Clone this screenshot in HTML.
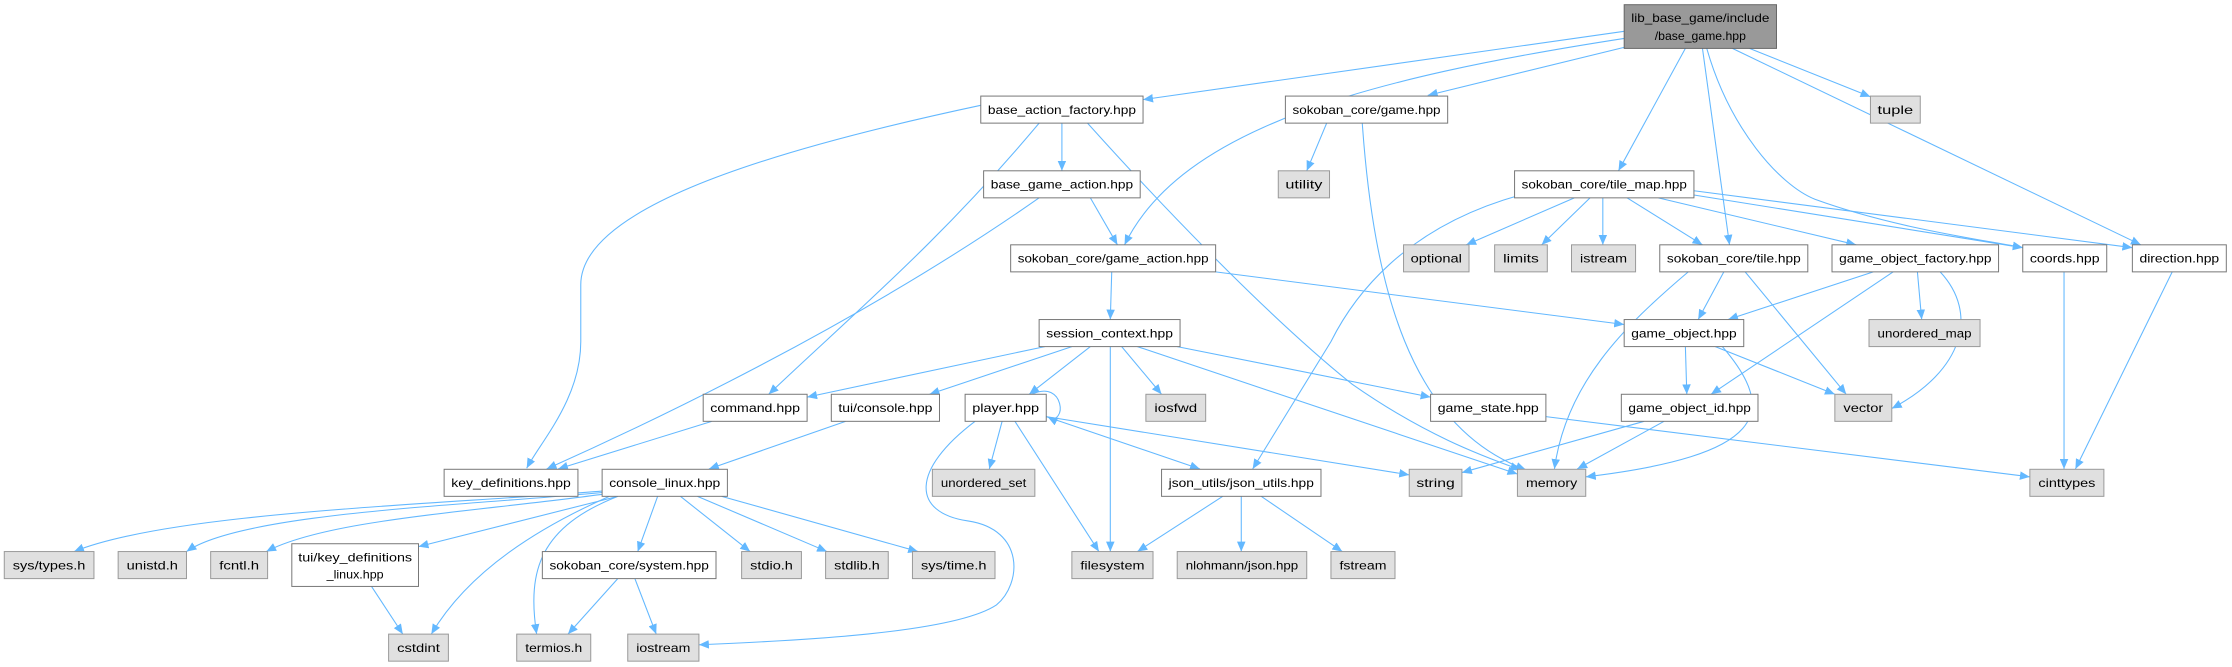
<!DOCTYPE html>
<html><head><meta charset="utf-8"><style>
html,body{margin:0;padding:0;background:#fff;}
svg{display:block;}
text{font-family:"Liberation Sans",sans-serif;font-size:8.6px;fill:#000;}
.n{fill:#fff;stroke:#777;stroke-width:0.7;}
.g{fill:#e0e0e0;stroke:#999;stroke-width:0.7;}
.r{fill:#999;stroke:#666;stroke-width:0.7;}
.e{fill:none;stroke:#63b8ff;stroke-width:0.75;}
</style></head><body>
<svg width="2232" height="667" viewBox="0 0 1568 468.6" preserveAspectRatio="none" xmlns="http://www.w3.org/2000/svg">
<defs><marker id="a" markerUnits="userSpaceOnUse" markerWidth="8" markerHeight="6" refX="7" refY="3" orient="auto"><path d="M0,0 L7,3 L0,6 z" fill="#63b8ff"/></marker></defs>
<g marker-end="url(#a)">
<path class="e" d="M1141,22 L803,70"/>
<path class="e" d="M1141,27 C960,55 830,90 790,172"/>
<path class="e" d="M1142,33 L1003,67"/>
<path class="e" d="M1184,34 L1137,120"/>
<path class="e" d="M1196,34 L1215,172"/>
<path class="e" d="M1199,34 C1215,90 1250,130 1275,140 C1330,160 1390,168 1421,174"/>
<path class="e" d="M1217,34 L1504,172"/>
<path class="e" d="M1229,34 L1314,68"/>
<path class="e" d="M689,74 C520,110 408,150 408,200 L408,240 C408,280 380,310 370,329"/>
<path class="e" d="M746,86.5 L746,120"/>
<path class="e" d="M730,86.5 C660,170 600,220 540,277"/>
<path class="e" d="M764,86.5 C830,160 900,230 950,270 C1000,305 1040,320 1068,330"/>
<path class="e" d="M730,139 C600,230 450,300 384,329.5"/>
<path class="e" d="M766,139 L785,172"/>
<path class="e" d="M932,86.5 L918,120"/>
<path class="e" d="M957,86.5 C965,200 990,300 1072,330"/>
<path class="e" d="M1068,137 C985,160 950,210 935,240 L880,329.5"/>
<path class="e" d="M1106,139 L1030,172"/>
<path class="e" d="M1117,139 L1083,172"/>
<path class="e" d="M1126,139 L1126,172"/>
<path class="e" d="M1143,139 L1196,172"/>
<path class="e" d="M1165,139 L1304,172"/>
<path class="e" d="M1190,137 L1421,174"/>
<path class="e" d="M1190,134 L1498,174"/>
<path class="e" d="M781,191 L780,224.5"/>
<path class="e" d="M854,191 L1141,228"/>
<path class="e" d="M1211,191 L1193,224.5"/>
<path class="e" d="M1226,191 L1297,277"/>
<path class="e" d="M1186,191 C1140,230 1100,270 1092,329.5"/>
<path class="e" d="M1316,191 L1214,224.5"/>
<path class="e" d="M1330,191 L1202,277"/>
<path class="e" d="M1347,191 L1350,224.5"/>
<path class="e" d="M1363,191 C1390,220 1380,260 1329,287"/>
<path class="e" d="M1450,191 L1450,329.5"/>
<path class="e" d="M1526,191 L1458,329.5"/>
<path class="e" d="M734,243.5 L567,279"/>
<path class="e" d="M753,243.5 L653,277"/>
<path class="e" d="M766,243.5 L723,277"/>
<path class="e" d="M780,243.5 L780,387.5"/>
<path class="e" d="M788,243.5 L816,277"/>
<path class="e" d="M799,243.5 L1066,333"/>
<path class="e" d="M827,243.5 L1005,279"/>
<path class="e" d="M1184,243.5 L1185,277"/>
<path class="e" d="M1205,243.5 L1289,277"/>
<path class="e" d="M1210,243.5 C1250,290 1240,320 1114,335"/>
<path class="e" d="M1155,296 L1027,332"/>
<path class="e" d="M1169,296 L1108,329.5"/>
<path class="e" d="M1086,292.7 L1426,335"/>
<path class="e" d="M725,277 C748,266 750,300 736,293"/>
<path class="e" d="M735,292.7 L990,333.6"/>
<path class="e" d="M735,292.7 L843,329.5"/>
<path class="e" d="M713,296 L772,387.5"/>
<path class="e" d="M704,296 L695,329.5"/>
<path class="e" d="M685,296 C640,330 640,360 680,366 C720,372 718,410 700,425 C670,445 560,450 491,453"/>
<path class="e" d="M500,296 L392,329.5"/>
<path class="e" d="M594,296 L498,329.5"/>
<path class="e" d="M859,348.7 L799,387.5"/>
<path class="e" d="M872,348.7 L872,387.5"/>
<path class="e" d="M886,348.7 L943,387.5"/>
<path class="e" d="M423,345 C300,355 120,360 52,387.5"/>
<path class="e" d="M423,346 C330,355 170,360 131,387.5"/>
<path class="e" d="M425,347 C330,360 230,365 187,387.5"/>
<path class="e" d="M434,348.7 L294,384"/>
<path class="e" d="M428,348.7 C380,370 330,400 303,445.5"/>
<path class="e" d="M434,348.7 C380,370 370,400 377,445.5"/>
<path class="e" d="M462,348.7 L448,387.5"/>
<path class="e" d="M478,348.7 L527,387.5"/>
<path class="e" d="M490,348.7 L581,387.5"/>
<path class="e" d="M507,348.7 L645,387.5"/>
<path class="e" d="M261,412 L283,445.5"/>
<path class="e" d="M434,406.5 L399,445.5"/>
<path class="e" d="M446,406.5 L461,445.5"/>
</g>
<rect class="r" x="1141" y="3.3" width="107" height="30.7"/>
<text x="1194.5" y="15.5" text-anchor="middle" textLength="97" lengthAdjust="spacingAndGlyphs">lib_base_game/include</text>
<text x="1194.5" y="28" text-anchor="middle" textLength="64" lengthAdjust="spacingAndGlyphs">/base_game.hpp</text>
<rect class="n" x="205" y="382" width="89" height="30"/>
<text x="249.5" y="394.5" text-anchor="middle" textLength="80" lengthAdjust="spacingAndGlyphs">tui/key_definitions</text>
<text x="249.5" y="406.5" text-anchor="middle" textLength="40" lengthAdjust="spacingAndGlyphs">_linux.hpp</text>
<g>
<rect class="n" x="689" y="67.5" width="114" height="19"/><text x="746" y="80" text-anchor="middle" textLength="104" lengthAdjust="spacingAndGlyphs">base_action_factory.hpp</text>
<rect class="n" x="903" y="67.5" width="114" height="19"/><text x="960" y="80" text-anchor="middle" textLength="104" lengthAdjust="spacingAndGlyphs">sokoban_core/game.hpp</text>
<rect class="g" x="1314" y="67.5" width="35" height="19"/><text x="1331.5" y="80" text-anchor="middle" textLength="25" lengthAdjust="spacingAndGlyphs">tuple</text>
<rect class="n" x="691" y="120" width="110" height="19"/><text x="746" y="132.5" text-anchor="middle" textLength="100" lengthAdjust="spacingAndGlyphs">base_game_action.hpp</text>
<rect class="g" x="898" y="120" width="36" height="19"/><text x="916" y="132.5" text-anchor="middle" textLength="26" lengthAdjust="spacingAndGlyphs">utility</text>
<rect class="n" x="1064" y="120" width="126" height="19"/><text x="1127" y="132.5" text-anchor="middle" textLength="116" lengthAdjust="spacingAndGlyphs">sokoban_core/tile_map.hpp</text>
<rect class="n" x="710" y="172" width="144" height="19"/><text x="782" y="184.5" text-anchor="middle" textLength="134" lengthAdjust="spacingAndGlyphs">sokoban_core/game_action.hpp</text>
<rect class="g" x="986" y="172" width="46" height="19"/><text x="1009" y="184.5" text-anchor="middle" textLength="36" lengthAdjust="spacingAndGlyphs">optional</text>
<rect class="g" x="1050" y="172" width="37" height="19"/><text x="1068.5" y="184.5" text-anchor="middle" textLength="25" lengthAdjust="spacingAndGlyphs">limits</text>
<rect class="g" x="1104" y="172" width="45" height="19"/><text x="1126.5" y="184.5" text-anchor="middle" textLength="33" lengthAdjust="spacingAndGlyphs">istream</text>
<rect class="n" x="1166" y="172" width="104" height="19"/><text x="1218" y="184.5" text-anchor="middle" textLength="94" lengthAdjust="spacingAndGlyphs">sokoban_core/tile.hpp</text>
<rect class="n" x="1287" y="172" width="117" height="19"/><text x="1345.5" y="184.5" text-anchor="middle" textLength="107" lengthAdjust="spacingAndGlyphs">game_object_factory.hpp</text>
<rect class="n" x="1421" y="172" width="59" height="19"/><text x="1450.5" y="184.5" text-anchor="middle" textLength="49" lengthAdjust="spacingAndGlyphs">coords.hpp</text>
<rect class="n" x="1498" y="172" width="66" height="19"/><text x="1531" y="184.5" text-anchor="middle" textLength="56" lengthAdjust="spacingAndGlyphs">direction.hpp</text>
<rect class="n" x="730" y="224.5" width="99" height="19"/><text x="779.5" y="237" text-anchor="middle" textLength="89" lengthAdjust="spacingAndGlyphs">session_context.hpp</text>
<rect class="n" x="1141" y="224.5" width="84" height="19"/><text x="1183" y="237" text-anchor="middle" textLength="74" lengthAdjust="spacingAndGlyphs">game_object.hpp</text>
<rect class="g" x="1313" y="224.5" width="78" height="19"/><text x="1352" y="237" text-anchor="middle" textLength="66" lengthAdjust="spacingAndGlyphs">unordered_map</text>
<rect class="n" x="494" y="277" width="73" height="19"/><text x="530.5" y="289.5" text-anchor="middle" textLength="63" lengthAdjust="spacingAndGlyphs">command.hpp</text>
<rect class="n" x="584" y="277" width="76" height="19"/><text x="622" y="289.5" text-anchor="middle" textLength="66" lengthAdjust="spacingAndGlyphs">tui/console.hpp</text>
<rect class="n" x="678" y="277" width="57" height="19"/><text x="706.5" y="289.5" text-anchor="middle" textLength="47" lengthAdjust="spacingAndGlyphs">player.hpp</text>
<rect class="g" x="805" y="277" width="42" height="19"/><text x="826" y="289.5" text-anchor="middle" textLength="30" lengthAdjust="spacingAndGlyphs">iosfwd</text>
<rect class="n" x="1005" y="277" width="81" height="19"/><text x="1045.5" y="289.5" text-anchor="middle" textLength="71" lengthAdjust="spacingAndGlyphs">game_state.hpp</text>
<rect class="n" x="1139" y="277" width="96" height="19"/><text x="1187" y="289.5" text-anchor="middle" textLength="86" lengthAdjust="spacingAndGlyphs">game_object_id.hpp</text>
<rect class="g" x="1289" y="277" width="40" height="19"/><text x="1309" y="289.5" text-anchor="middle" textLength="28" lengthAdjust="spacingAndGlyphs">vector</text>
<rect class="n" x="312" y="329.7" width="94" height="19"/><text x="359" y="342.2" text-anchor="middle" textLength="84" lengthAdjust="spacingAndGlyphs">key_definitions.hpp</text>
<rect class="n" x="423" y="329.7" width="88" height="19"/><text x="467" y="342.2" text-anchor="middle" textLength="78" lengthAdjust="spacingAndGlyphs">console_linux.hpp</text>
<rect class="g" x="655" y="329.7" width="72" height="19"/><text x="691" y="342.2" text-anchor="middle" textLength="60" lengthAdjust="spacingAndGlyphs">unordered_set</text>
<rect class="n" x="816" y="329.7" width="112" height="19"/><text x="872" y="342.2" text-anchor="middle" textLength="102" lengthAdjust="spacingAndGlyphs">json_utils/json_utils.hpp</text>
<rect class="g" x="990" y="329.7" width="37" height="19"/><text x="1008.5" y="342.2" text-anchor="middle" textLength="27" lengthAdjust="spacingAndGlyphs">string</text>
<rect class="g" x="1066" y="329.7" width="48" height="19"/><text x="1090" y="342.2" text-anchor="middle" textLength="36" lengthAdjust="spacingAndGlyphs">memory</text>
<rect class="g" x="1426" y="329.7" width="52" height="19"/><text x="1452" y="342.2" text-anchor="middle" textLength="40" lengthAdjust="spacingAndGlyphs">cinttypes</text>
<rect class="g" x="3" y="387.5" width="63" height="19"/><text x="34.5" y="400" text-anchor="middle" textLength="51" lengthAdjust="spacingAndGlyphs">sys/types.h</text>
<rect class="g" x="83" y="387.5" width="48" height="19"/><text x="107" y="400" text-anchor="middle" textLength="36" lengthAdjust="spacingAndGlyphs">unistd.h</text>
<rect class="g" x="148" y="387.5" width="40" height="19"/><text x="168" y="400" text-anchor="middle" textLength="28" lengthAdjust="spacingAndGlyphs">fcntl.h</text>
<rect class="n" x="381" y="387.5" width="122" height="19"/><text x="442" y="400" text-anchor="middle" textLength="112" lengthAdjust="spacingAndGlyphs">sokoban_core/system.hpp</text>
<rect class="g" x="521" y="387.5" width="42" height="19"/><text x="542" y="400" text-anchor="middle" textLength="30" lengthAdjust="spacingAndGlyphs">stdio.h</text>
<rect class="g" x="580" y="387.5" width="44" height="19"/><text x="602" y="400" text-anchor="middle" textLength="32" lengthAdjust="spacingAndGlyphs">stdlib.h</text>
<rect class="g" x="641" y="387.5" width="58" height="19"/><text x="670" y="400" text-anchor="middle" textLength="46" lengthAdjust="spacingAndGlyphs">sys/time.h</text>
<rect class="g" x="753" y="387.5" width="57" height="19"/><text x="781.5" y="400" text-anchor="middle" textLength="45" lengthAdjust="spacingAndGlyphs">filesystem</text>
<rect class="g" x="827" y="387.5" width="91" height="19"/><text x="872.5" y="400" text-anchor="middle" textLength="79" lengthAdjust="spacingAndGlyphs">nlohmann/json.hpp</text>
<rect class="g" x="935" y="387.5" width="45" height="19"/><text x="957.5" y="400" text-anchor="middle" textLength="33" lengthAdjust="spacingAndGlyphs">fstream</text>
<rect class="g" x="273" y="445.5" width="42" height="19"/><text x="294" y="458" text-anchor="middle" textLength="30" lengthAdjust="spacingAndGlyphs">cstdint</text>
<rect class="g" x="363" y="445.5" width="52" height="19"/><text x="389" y="458" text-anchor="middle" textLength="40" lengthAdjust="spacingAndGlyphs">termios.h</text>
<rect class="g" x="441" y="445.5" width="50" height="19"/><text x="466" y="458" text-anchor="middle" textLength="38" lengthAdjust="spacingAndGlyphs">iostream</text>
</g>
</svg>
</body></html>
